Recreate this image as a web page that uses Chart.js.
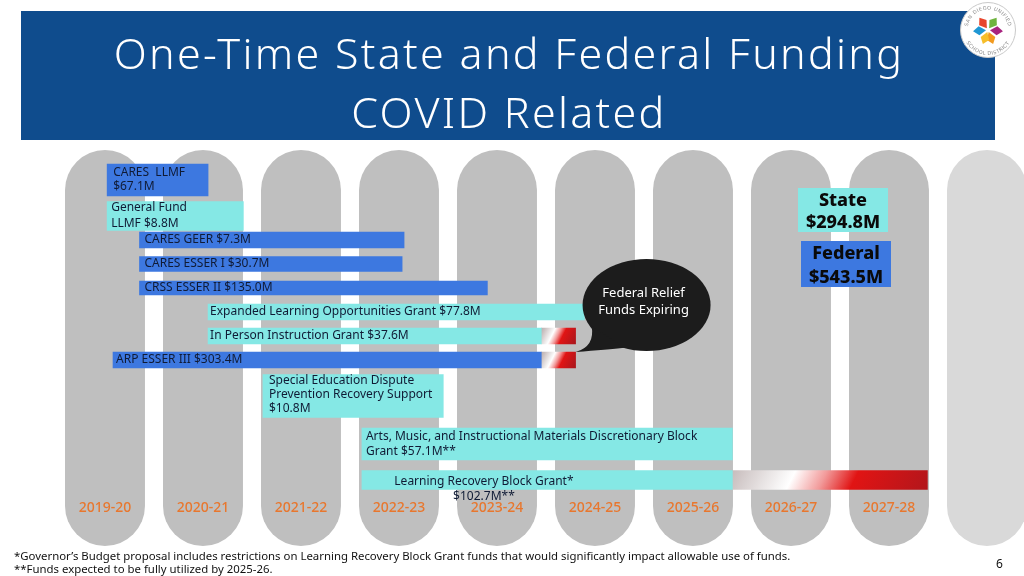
<!DOCTYPE html>
<html lang="en">
<head>
<meta charset="utf-8">
<title>One-Time State and Federal Funding - COVID Related</title>
<script src="https://cdn.jsdelivr.net/npm/chart.js@4.4.1/dist/chart.umd.min.js"></script>
<style>
  html, body { margin: 0; padding: 0; background: #ffffff; }
  body { position: relative; width: 1024px; height: 576px; overflow: hidden; font-family: "Noto Sans", sans-serif; color: #111; }
  #grafico { position: absolute; left: 0; top: 0; }
  #cabecalho { position: absolute; left: 21px; top: 11px; width: 974px; height: 129px; background: #0f4c8d; }
  #cabecalho h1 { margin: 0; padding-top: 12px; padding-left: 2px; color: #fff; font-size: 43px; font-weight: 300; line-height: 59px; text-align: center; letter-spacing: 2.3px; }
  #logo { position: absolute; left: 959px; top: 1px; }
  .total { position: absolute; width: 90px; text-align: center; font-weight: 800; font-size: 18px; color: #0a0a0a; }
  #totalState { left: 798px; top: 188px; height: 44px; line-height: 22px; background: #85e8e5; }
  #totalFederal { left: 801px; top: 241px; height: 46px; line-height: 23.5px; background: #3d78e0; }
  #notas { position: absolute; left: 14px; top: 549px; font-size: 11.4px; line-height: 13px; color: #111; }
  #pagina { position: absolute; left: 996px; top: 555px; font-size: 12px; }
</style>
</head>
<body>
<canvas id="grafico" width="1024" height="576"></canvas>

<div id="cabecalho"><h1>One-Time State and Federal Funding<br>COVID Related</h1></div>

<svg id="logo" width="58" height="58" viewBox="0 0 58 58">
  <defs>
    <path id="arcoTopo" d="M 8.5 29 A 20.5 20.5 0 0 1 49.5 29"/>
    <path id="arcoBase" d="M 4 29 A 25 25 0 0 0 54 29"/>
  </defs>
  <circle cx="29" cy="29" r="27.5" fill="#fff" stroke="#c9c9c9" stroke-width="1"/>
  <text font-family="DejaVu Sans" font-size="5" fill="#8a8a8a" letter-spacing="0.4"><textPath href="#arcoTopo" startOffset="50%" text-anchor="middle">SAN DIEGO UNIFIED</textPath></text>
  <text font-family="DejaVu Sans" font-size="5" fill="#8a8a8a" letter-spacing="0.4"><textPath href="#arcoBase" startOffset="50%" text-anchor="middle">SCHOOL DISTRICT</textPath></text>
  <g transform="translate(29 29)">
    <path d="M0 -2 L4.5 -9 L0 -15 L-4.5 -9 Z" fill="#e8452c" transform="rotate(-35)"/>
    <path d="M0 -2 L4.5 -9 L0 -15 L-4.5 -9 Z" fill="#6fb43f" transform="rotate(35)"/>
    <path d="M0 -2 L4.5 -9 L0 -15 L-4.5 -9 Z" fill="#a8237f" transform="rotate(95)"/>
    <path d="M0 -2 L4.5 -9 L0 -15 L-4.5 -9 Z" fill="#f29a1f" transform="rotate(160)"/>
    <path d="M0 -2 L4.5 -9 L0 -15 L-4.5 -9 Z" fill="#f6be2a" transform="rotate(200)"/>
    <path d="M0 -2 L4.5 -9 L0 -15 L-4.5 -9 Z" fill="#1f97d4" transform="rotate(265)"/>
  </g>
</svg>

<div id="totalState" class="total"></div>
<div id="totalFederal" class="total"></div>

<div id="notas">*Governor’s Budget proposal includes restrictions on Learning Recovery Block Grant funds that would significantly impact allowable use of funds.<br>**Funds expected to be fully utilized by 2025-26.</div>
<div id="pagina">6</div>

<script>
// Anos fiscais mostrados nas colunas
const fiscalYears = ['2019-20', '2020-21', '2021-22', '2022-23', '2023-24', '2024-25', '2025-26', '2026-27', '2027-28'];

// Verbas (uma linha cada) e a fonte de cada uma
const grants = [
    'CARES  LLMF\n$67.1M',
    'General Fund\nLLMF $8.8M',
    'CARES GEER $7.3M',
    'CARES ESSER I $30.7M',
    'CRSS ESSER II $135.0M',
    'Expanded Learning Opportunities Grant $77.8M',
    'In Person Instruction Grant $37.6M',
    'ARP ESSER III $303.4M',
    'Special Education Dispute\nPrevention Recovery Support\n$10.8M',
    'Arts, Music, and Instructional Materials Discretionary Block\nGrant $57.1M**',
    'Learning Recovery Block Grant*\n$102.7M**'
];
const source = ['Federal', 'State', 'Federal', 'Federal', 'Federal', 'State', 'State', 'Federal', 'State', 'State', 'State'];

// Início e fim de cada verba, em anos (2019 = começo de 2019-20)
const startYear = [2019.43, 2019.43, 2019.76, 2019.76, 2019.76, 2020.46, 2020.46, 2019.49, 2021.02, 2022.03, 2022.03];
const endYear = [2020.46, 2020.82, 2022.46, 2022.44, 2023.31, 2024.30, 2023.86, 2023.86, 2022.86, 2025.81, 2025.81];
// Trecho vermelho = prazo expirando (null quando não há)
const expiryEnd = [null, null, null, null, null, null, 2024.21, 2024.21, null, null, 2027.80];

// Totais por fonte
const totalLabels = ['State', 'Federal'];
const totalValues = [294.8, 543.5];

const bubbleLines = ['Federal Relief', 'Funds Expiring'];

// --- layout (não são dados) ---
const slotCount = 33;
const rowSlot = [2, 5, 7, 9, 11, 13, 15, 17, 20, 24, 27];
const barSize = [32, 29, 16, 15, 14, 16, 16, 16, 43, 32, 19];
const labelStyle = [
    { pad: 6, lh: 14 }, { pad: 4, lh: 16 }, { pad: 5 }, { pad: 5 }, { pad: 5 },
    { pad: 2 }, { pad: 2 }, { pad: 3 },
    { pad: 6, lh: 14, dy: -1.5 }, { pad: 4, lh: 15 },
    { pad: 122, lh: 15, dy: 9, align: 'center' }
];
const columnWidth = 0.816;
const bubbleRow = 7;
const sourceColor = { State: '#85e8e5', Federal: '#3d78e0' };
const fontFamily = '"Noto Sans", sans-serif';

Chart.defaults.font.family = fontFamily;

function slotData(i, value) {
    const data = new Array(slotCount).fill(null);
    data[rowSlot[i]] = value;
    return data;
}

function expiringGradient(context) {
    const chart = context.chart;
    const bar = context.raw;
    if (!chart.chartArea || !bar) return '#d71a1a';
    const x0 = chart.scales.x.getPixelForValue(bar[0]);
    const x1 = chart.scales.x.getPixelForValue(bar[1]);
    const yc = chart.scales.y.getPixelForValue(context.dataIndex);
    const tilt = (x1 - x0) / 4;
    const g = chart.ctx.createLinearGradient(x0, yc - tilt, x1, yc + tilt);
    g.addColorStop(0, '#b9adad');
    g.addColorStop(0.1, '#cbc1c1');
    g.addColorStop(0.34, '#ffffff');
    g.addColorStop(0.47, '#f29b9b');
    g.addColorStop(0.6, '#e11414');
    g.addColorStop(0.9, '#b5161b');
    g.addColorStop(1, '#a81419');
    return g;
}

function buildDatasets() {
    const datasets = grants.map((grant, i) => ({
        label: grant.replace(/\n/g, ' '),
        data: slotData(i, [startYear[i], endYear[i]]),
        backgroundColor: sourceColor[source[i]],
        barThickness: barSize[i],
        stack: 'linha',
        row: i
    }));
    expiryEnd.forEach((end, i) => {
        if (end === null) return;
        datasets.push({
            label: 'Expiring',
            data: slotData(i, [endYear[i], end]),
            backgroundColor: expiringGradient,
            barThickness: barSize[i],
            stack: 'linha',
            row: i,
            expiring: true
        });
    });
    return datasets;
}

// Colunas cinzas arredondadas atrás de tudo
const yearColumns = {
    id: 'yearColumns',
    beforeDraw(chart) {
        const { ctx, chartArea, scales: { x } } = chart;
        ctx.save();
        for (let i = 0; i <= fiscalYears.length; i++) {
            const left = x.getPixelForValue(2019 + i);
            const right = x.getPixelForValue(2019 + i + columnWidth);
            ctx.fillStyle = i < fiscalYears.length ? '#bfbfbf' : '#d9d9d9';
            ctx.beginPath();
            ctx.roundRect(left, chartArea.top, right - left, chartArea.bottom - chartArea.top, (right - left) / 2);
            ctx.fill();
        }
        ctx.restore();
    }
};

// Nome e valor escritos dentro de cada barra
const grantLabels = {
    id: 'grantLabels',
    afterDatasetsDraw(chart) {
        const ctx = chart.ctx;
        ctx.save();
        ctx.font = '12px ' + fontFamily;
        ctx.fillStyle = '#101b35';
        ctx.textBaseline = 'middle';
        grants.forEach((grant, i) => {
            const bar = chart.getDatasetMeta(i).data[rowSlot[i]];
            const st = labelStyle[i];
            const lines = grant.split('\n');
            const lh = st.lh || 14;
            ctx.textAlign = st.align || 'left';
            const x = Math.min(bar.x, bar.base) + st.pad;
            const y0 = bar.y + (st.dy || 0) - (lines.length - 1) * lh / 2;
            lines.forEach((line, j) => ctx.fillText(line, x, y0 + j * lh));
        });
        ctx.restore();
    }
};

// Balão "Federal Relief Funds Expiring" apontando para o fim do ARP ESSER III
const expiryBubble = {
    id: 'expiryBubble',
    afterDatasetsDraw(chart) {
        const idx = chart.data.datasets.findIndex(d => d.expiring && d.row === bubbleRow);
        const bar = chart.getDatasetMeta(idx).data[rowSlot[bubbleRow]];
        const tipX = bar.x;
        const tipY = bar.y - bar.height / 2;
        const cx = tipX + 71, cy = tipY - 47, rx = 64, ry = 46;
        const ctx = chart.ctx;
        ctx.save();
        ctx.fillStyle = '#1c1c1c';
        ctx.beginPath();
        ctx.ellipse(cx, cy, rx, ry, 0, 0, Math.PI * 2);
        ctx.fill();
        ctx.beginPath();
        ctx.moveTo(cx - rx * 0.86, cy + ry * 0.45);
        ctx.quadraticCurveTo(cx - rx * 0.8, cy + ry * 0.9, tipX, tipY);
        ctx.quadraticCurveTo(cx - rx * 0.6, cy + ry * 0.97, cx - rx * 0.35, cy + ry * 0.93);
        ctx.closePath();
        ctx.fill();
        ctx.fillStyle = '#ffffff';
        ctx.font = '13px ' + fontFamily;
        ctx.textAlign = 'center';
        ctx.textBaseline = 'middle';
        ctx.fillText(bubbleLines[0], cx - 3, cy - 12);
        ctx.fillText(bubbleLines[1], cx - 3, cy + 5);
        ctx.restore();
    }
};

function desenhaGrafico() {
    const slotLabels = new Array(slotCount).fill('');
    rowSlot.forEach((s, i) => { slotLabels[s] = grants[i].split('\n')[0]; });

    const ctx = document.getElementById('grafico').getContext('2d');
    window.grafico = new Chart(ctx, {
        type: 'bar',
        data: { labels: slotLabels, datasets: buildDatasets() },
        plugins: [yearColumns, grantLabels, expiryBubble],
        options: {
            indexAxis: 'y',
            responsive: false,
            animation: false,
            events: [],
            layout: { padding: { left: 65, right: 8.4, top: 150, bottom: 30 } },
            elements: { bar: { borderWidth: 0, borderSkipped: false } },
            scales: {
                x: {
                    type: 'linear',
                    min: 2019,
                    max: 2028.7,
                    stacked: false,
                    position: { y: 28 },
                    grid: { display: false, drawTicks: false },
                    border: { display: false },
                    afterBuildTicks(axis) {
                        axis.ticks = fiscalYears.map((_, i) => ({ value: 2019 + i + columnWidth / 2 }));
                    },
                    ticks: {
                        autoSkip: false,
                        maxRotation: 0,
                        padding: 8,
                        color: '#e8772e',
                        font: { size: 14, weight: 500 },
                        callback: (value, index) => fiscalYears[index]
                    }
                },
                y: {
                    type: 'category',
                    display: false,
                    offset: true,
                    grid: { display: false }
                }
            },
            plugins: {
                legend: { display: false },
                tooltip: { enabled: false }
            }
        }
    });
}

function preencheTotais() {
    const caixas = [document.getElementById('totalState'), document.getElementById('totalFederal')];
    totalLabels.forEach((rotulo, i) => {
        caixas[i].innerHTML = rotulo + '<br>$' + totalValues[i].toFixed(1) + 'M';
    });
}

document.addEventListener('DOMContentLoaded', () => {
    preencheTotais();
    desenhaGrafico();
});
</script>
</body>
</html>
